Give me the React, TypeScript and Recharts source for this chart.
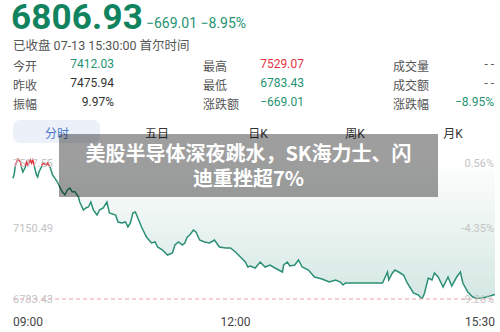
import React from "react";
import { ComposedChart, Area, XAxis, YAxis, ReferenceLine } from "recharts";

// 分时 data: minutes after 09:00, index level
const minutes = [
  0, 1, 2, 4, 6, 7, 8, 10, 11, 12, 14, 15, 16, 17, 19, 20, 21, 23, 24, 27, 28, 30, 32, 36, 37, 40, 42, 44, 46, 48,
  50, 53, 54, 57, 59, 61, 63, 65, 68, 70, 73, 76, 78, 83, 85, 88, 91, 93, 95, 97, 99, 101, 104, 108, 112, 115, 117,
  121, 125, 129, 131, 134, 137, 139, 141, 143, 146, 148, 151, 155, 159, 163, 167, 172, 176, 180, 184, 188, 190, 192,
  196, 200, 204, 208, 212, 218, 219, 222, 224, 228, 231, 234, 239, 244, 250, 256, 261, 265, 267, 269, 299, 303, 304,
  307, 309, 312, 316, 319, 324, 328, 331, 333, 336, 339, 341, 344, 348, 352, 355, 359, 362, 364, 368, 372, 375, 380,
  390,
];
const prices = [
  7412.03, 7434.2, 7481.1, 7512.3, 7496.7, 7465.5, 7444.7, 7470.7, 7496.7, 7481.1, 7507.1, 7491.5, 7507.1, 7481.1,
  7429.0, 7418.6, 7444.7, 7470.7, 7491.5, 7481.1, 7491.5, 7470.7, 7429.0, 7392.6, 7377.0, 7340.5, 7324.9, 7350.9,
  7361.3, 7340.5, 7343.0, 7314.5, 7288.4, 7246.8, 7257.2, 7262.4, 7288.4, 7246.8, 7220.8, 7246.8, 7257.2, 7288.4,
  7231.2, 7220.8, 7184.3, 7179.1, 7184.3, 7158.3, 7179.1, 7231.2, 7236.4, 7205.1, 7158.3, 7106.2, 7075.0, 7080.2,
  7054.1, 7038.5, 7012.5, 7022.9, 7064.5, 7080.2, 7064.5, 7075.0, 7106.2, 7116.6, 7142.6, 7132.2, 7090.6, 7080.2,
  7075.0, 7090.6, 7054.1, 7048.9, 7048.9, 7028.1, 7002.1, 6976.0, 6950.0, 6955.2, 6944.8, 6976.0, 6950.0, 6960.4,
  6944.8, 6924.0, 6960.4, 6976.0, 6955.2, 6960.4, 6986.4, 6950.0, 6934.4, 6898.0, 6887.5, 6871.9, 6882.3, 6871.9,
  6856.3, 6866.7, 6866.7, 6924.0, 6882.3, 6918.7, 6934.4, 6924.0, 6908.3, 6866.7, 6814.6, 6804.2, 6783.43, 6814.6,
  6892.7, 6882.3, 6918.7, 6897.9, 6845.9, 6897.9, 6851.1, 6897.9, 6924.0, 6866.7, 6819.8, 6793.8, 6786.0, 6788.6,
  6806.93,
];

const prevClose = 7475.94;
const yTicks = [6783.43, 7150.49, 7517.55];
const xTicks = [0, 180, 390];
const xTickLabels = ["09:00", "12:00", "15:30"];
const tabs = ["分时", "五日", "日K", "周K", "月K"];

const stats = [
  [
    { label: "今开", value: "7412.03", color: "#1f9372" },
    { label: "昨收", value: "7475.94", color: "#333" },
    { label: "振幅", value: "9.97%", color: "#333" },
  ],
  [
    { label: "最高", value: "7529.07", color: "#e2343f" },
    { label: "最低", value: "6783.43", color: "#1f9372" },
    { label: "涨跌额", value: "−669.01", color: "#1f9372" },
  ],
  [
    { label: "成交量", value: "- -", color: "#555" },
    { label: "成交额", value: "- -", color: "#555" },
    { label: "涨跌幅", value: "−8.95%", color: "#1f9372" },
  ],
];

const data = minutes.map((m, i) => ({ m, price: prices[i] }));
const maxP = Math.max(...prices);
const minP = Math.min(...prices);
const redStop = (maxP - prevClose) / (maxP - minP);

const FONT = "Roboto, 'Noto Sans CJK SC', sans-serif";

const XTick = (props: any) => {
  const { x, y, payload } = props;
  const idx = xTicks.indexOf(payload.value);
  const anchor = idx === 0 ? "start" : idx === xTicks.length - 1 ? "end" : "middle";
  return (
    <text x={x} y={y + 19} textAnchor={anchor} fontSize={12} fill="#444" fontFamily={FONT}>
      {xTickLabels[idx]}
    </text>
  );
};

const LeftTick = (props: any) => {
  const { y, payload } = props;
  const shift = payload.value === yTicks[2] ? 5 : 0;
  return (
    <text x={13} y={y + shift} dominantBaseline="central" textAnchor="start" fontSize={11} fill="#c4c4c4" fontFamily={FONT}>
      {payload.value.toFixed(2)}
    </text>
  );
};

const RightTick = (props: any) => {
  const { y, payload } = props;
  const shift = payload.value === yTicks[2] ? 5 : 0;
  const pct = ((payload.value / prevClose - 1) * 100).toFixed(2) + "%";
  return (
    <text x={494} y={y + shift} dominantBaseline="central" textAnchor="end" fontSize={11} fill="#c4c4c4" fontFamily={FONT}>
      {pct}
    </text>
  );
};

export default function App() {
  return (
    <div style={{ position: "fixed", left: 0, top: 0, width: 500, height: 332, background: "#fff", fontFamily: FONT, overflow: "hidden" }}>
      {/* 头部价格 */}
      <div style={{ position: "absolute", left: 11, top: 0, fontSize: 35, lineHeight: "35px", fontWeight: 700, color: "#11835f", letterSpacing: 0.2 }}>
        6806.93
      </div>
      <div style={{ position: "absolute", left: 146, top: 15, fontSize: 14, color: "#1f9372" }}>−669.01 −8.95%</div>
      <div style={{ position: "absolute", left: 13, top: 35, fontSize: 12.5, color: "#555" }}>已收盘 07-13 15:30:00 首尔时间</div>

      {stats.map((col, ci) =>
        col.map((s, ri) => (
          <React.Fragment key={ci + "-" + ri}>
            <div style={{ position: "absolute", left: 13 + ci * 190, top: 57 + ri * 19, fontSize: 12, color: "#555" }}>{s.label}</div>
            <div
              style={{
                position: "absolute",
                right: 500 - (114 + ci * 190),
                top: 57 + ri * 19,
                fontSize: 12,
                color: s.color,
                textAlign: "right",
              }}
            >
              {s.value}
            </div>
          </React.Fragment>
        ))
      )}

      {/* tabs */}
      <div style={{ position: "absolute", left: 13, top: 120, width: 87, height: 23, borderRadius: 7, background: "#ebf0f9" }} />
      {tabs.map((t, i) => (
        <div
          key={t}
          style={{
            position: "absolute",
            left: [57, 157, 258, 355, 453][i] - 30,
            width: 60,
            top: 124,
            fontSize: 12,
            textAlign: "center",
            color: i === 0 ? "#4a78c8" : "#333",
          }}
        >
          {t}
        </div>
      ))}

      <div style={{ position: "absolute", left: 0, top: 150 }}>
        <ComposedChart width={500} height={182} data={data} margin={{ top: 8, right: 5, bottom: 0, left: 13 }}>
          <defs>
            <linearGradient id="lineGrad" x1="0" y1="0" x2="0" y2="1">
              <stop offset={0} stopColor="#e2343f" />
              <stop offset={redStop} stopColor="#e2343f" />
              <stop offset={redStop} stopColor="#2a8f74" />
              <stop offset={1} stopColor="#2a8f74" />
            </linearGradient>
            <linearGradient id="fillGrad" x1="0" y1="0" x2="0" y2="1">
              <stop offset="0%" stopColor="#2a8a70" stopOpacity={0} />
              <stop offset="100%" stopColor="#2a8a70" stopOpacity={0.2} />
            </linearGradient>
          </defs>
          <XAxis
            dataKey="m"
            type="number"
            domain={[0, 390]}
            ticks={xTicks}
            axisLine={false}
            tickLine={false}
            height={33}
            tick={<XTick />}
            interval={0}
          />
          <YAxis yAxisId="p" domain={[yTicks[0], yTicks[2]]} ticks={yTicks} mirror axisLine={false} tickLine={false} tick={<LeftTick />} allowDataOverflow interval={0} />
          <YAxis yAxisId="r" orientation="right" domain={[yTicks[0], yTicks[2]]} ticks={yTicks} mirror axisLine={false} tickLine={false} tick={<RightTick />} allowDataOverflow interval={0} />
          <ReferenceLine yAxisId="p" y={yTicks[0]} stroke="#f4a3a3" strokeDasharray="4 3" />
          <Area
            yAxisId="p"
            type="linear"
            dataKey="price"
            baseValue={yTicks[2]}
            stroke="url(#lineGrad)"
            strokeWidth={1.5}
            fill="url(#fillGrad)"
            fillOpacity={1}
            dot={false}
            activeDot={false}
            isAnimationActive={false}
          />
        </ComposedChart>
      </div>

      {/* 新闻标题遮罩 */}
      <div
        style={{
          position: "absolute",
          left: 59,
          top: 134,
          width: 379,
          height: 63,
          background: "rgba(0,0,0,0.38)",
          color: "#fff",
          fontWeight: 700,
          fontSize: 20,
          lineHeight: "25px",
          textAlign: "center",
          paddingTop: 6,
          boxSizing: "border-box",
          fontFamily: "'Noto Sans CJK SC', sans-serif",
        }}
      >
        美股半导体深夜跳水，SK海力士、闪
        <br />
        迪重挫超7%
      </div>
    </div>
  );
}
